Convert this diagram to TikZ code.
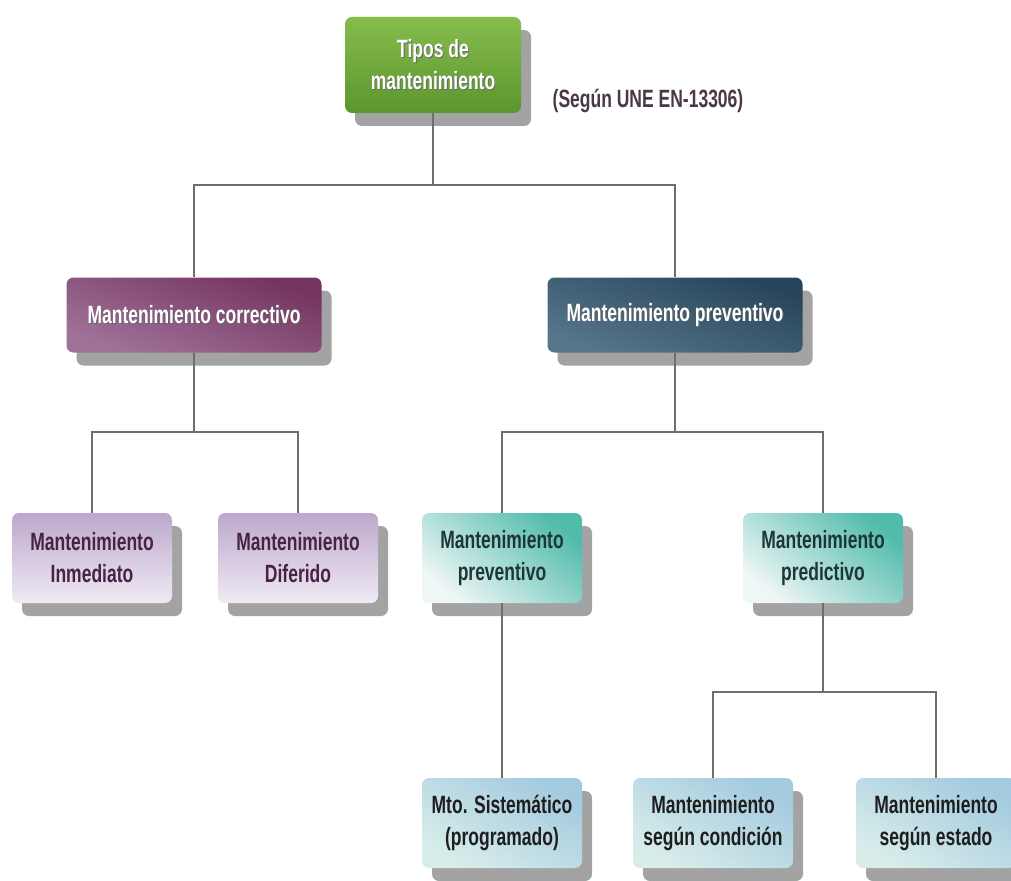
\documentclass[tikz,border=0pt]{standalone}
\usepackage{fontspec}
\newfontfamily\boxfont[FakeStretch=0.7]{Liberation Sans}
\usetikzlibrary{shadows}
\definecolor{lineC}{HTML}{6E6E6E}
\definecolor{greenT}{HTML}{86BC4C}
\definecolor{greenB}{HTML}{5C962E}
\definecolor{purT}{HTML}{74345F}
\definecolor{purB}{HTML}{A0729A}
\definecolor{navT}{HTML}{27445A}
\definecolor{navB}{HTML}{56768C}
\definecolor{lavT}{HTML}{BBA8CD}
\definecolor{lavB}{HTML}{F0EAF3}
\definecolor{tealT}{HTML}{52BCAC}
\definecolor{tealB}{HTML}{EEF6F6}
\definecolor{bluT}{HTML}{A3CADF}
\definecolor{bluB}{HTML}{D8EDEA}
\definecolor{labC}{HTML}{4A3848}
\definecolor{lavText}{HTML}{4A2244}
\definecolor{tealText}{HTML}{1E3636}
\definecolor{bluText}{HTML}{1E1E1E}
\newcommand\stxt[1]{\makebox[0pt][l]{\kern0.9pt\raisebox{-0.9pt}{\textcolor{black!60}{#1}}}#1}
\tikzset{
  x=1pt,y=1pt,
  box/.style={rounded corners=7pt, align=center, inner sep=0pt,
    font=\boxfont\bfseries\fontsize{25}{32}\selectfont,
    drop shadow={shadow xshift=10pt, shadow yshift=-13pt, fill=black!36, opacity=1}},
  rootbox/.style={box, minimum width=176pt, minimum height=96pt, text=white,
    top color=greenT, bottom color=greenB},
  corrbox/.style={box, minimum width=255pt, minimum height=75pt, text=white,
    top color=purT, bottom color=purB, shading angle=-20},
  prevbox/.style={box, minimum width=255pt, minimum height=75pt, text=white,
    top color=navT, bottom color=navB, shading angle=-20},
  lavbox/.style={box, minimum width=160pt, minimum height=90pt, text=lavText,
    top color=lavT, bottom color=lavB},
  tealbox/.style={box, minimum width=160pt, minimum height=90pt, text=tealText,
    top color=tealT, bottom color=tealB, shading angle=-40},
  blubox/.style={box, minimum width=160pt, minimum height=90pt, text=bluText,
    top color=bluT, bottom color=bluB, shading angle=-30},
  conn/.style={draw=lineC, line width=1.6pt}
}
\begin{document}
\begin{tikzpicture}
\useasboundingbox[fill=white] (0,0) rectangle (1011,-880);
% nodes
\node[rootbox] (root) at (433,-65) {\stxt{Tipos de}\\\stxt{mantenimiento}};
\node[font=\boxfont\bfseries\fontsize{25}{30}\selectfont, text=labC] (lab) at (648,-101) {(Según UNE EN-13306)};
\node[corrbox] (corr) at (194,-315) {\stxt{Mantenimiento correctivo}};
\node[prevbox] (prev) at (675,-315) {\stxt{Mantenimiento preventivo}};
\node[lavbox] (inm) at (92,-558) {Mantenimiento\\Inmediato};
\node[lavbox] (dif) at (298,-558) {Mantenimiento\\Diferido};
\node[tealbox] (prevb) at (502,-558) {Mantenimiento\\preventivo};
\node[tealbox] (pred) at (823,-558) {Mantenimiento\\predictivo};
\node[blubox] (mto) at (502,-823) {Mto. Sistemático\\(programado)};
\node[blubox] (cond) at (713,-823) {Mantenimiento\\según condición};
\node[blubox] (est) at (936,-823) {Mantenimiento\\según estado};
% junctions
\coordinate (j1) at (433,-185);
\coordinate (j2) at (194,-432);
\coordinate (j3) at (675,-432);
\coordinate (j4) at (823,-692);
% connectors
\draw[conn] (root.south) -- (j1);
\draw[conn] (corr.north) |- (j1) -| (prev.north);
\draw[conn] (corr.south) -- (j2);
\draw[conn] (inm.north) |- (j2) -| (dif.north);
\draw[conn] (prev.south) -- (j3);
\draw[conn] (prevb.north) |- (j3) -| (pred.north);
\draw[conn] (prevb.south) -- (mto.north);
\draw[conn] (pred.south) -- (j4);
\draw[conn] (cond.north) |- (j4) -| (est.north);
\end{tikzpicture}
\end{document}
